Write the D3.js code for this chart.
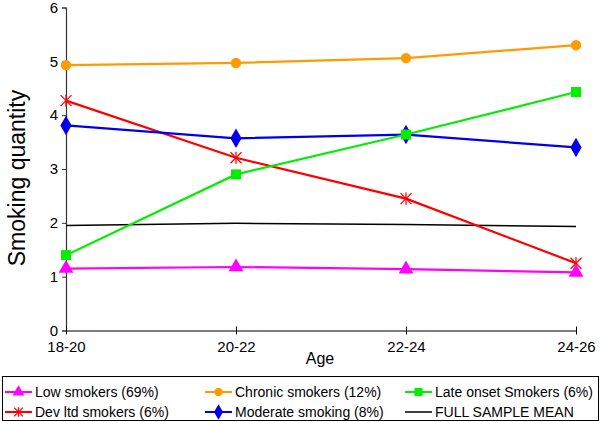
<!DOCTYPE html>
<html><head><meta charset="utf-8">
<script src="https://cdn.jsdelivr.net/npm/d3@7"></script>
<style>body{margin:0;background:#fff}svg{display:block;font-family:"Liberation Sans",Arial,sans-serif}</style>
</head><body>
<svg id="c" width="601" height="422"></svg>
<script>
const categories = ["18-20","20-22","22-24","24-26"];
const yTicks = [0,1,2,3,4,5,6];
const lowSmokers = [1.15,1.18,1.14,1.08];
const chronicSmokers = [4.93,4.97,5.06,5.30];
const lateOnset = [1.40,2.90,3.64,4.43];
const devLtd = [4.27,3.21,2.45,1.25];
const moderate = [3.81,3.57,3.64,3.40];
const fullMean = [1.95,1.99,1.97,1.93];

const series = [
  {name:"Low smokers (69%)", values:lowSmokers, color:"#ff00ff", marker:"triangle"},
  {name:"Chronic smokers (12%)", values:chronicSmokers, color:"#ff9a00", marker:"circle"},
  {name:"Late onset Smokers (6%)", values:lateOnset, color:"#00ee00", marker:"square"},
  {name:"Dev ltd smokers (6%)", values:devLtd, color:"#ff0000", marker:"star"},
  {name:"Moderate smoking (8%)", values:moderate, color:"#0000ee", marker:"diamond"},
  {name:"FULL SAMPLE MEAN", values:fullMean, color:"#000000", marker:"none"}
];
const drawOrder = [5,1,3,4,2,0];

const svg = d3.select("#c");
const x = d3.scalePoint().domain(categories).range([66,576]);
const y = d3.scaleLinear().domain([0,6]).range([330.5,7.5]);

// axes
const yAx = svg.append("g").attr("transform","translate(66,0)")
  .call(d3.axisLeft(y).tickValues(yTicks).tickSize(4).tickPadding(4).tickFormat(d3.format("d")));
yAx.select(".domain").attr("stroke","#333").attr("stroke-width",1.2);
yAx.selectAll(".tick line").attr("stroke","#333");
yAx.selectAll("text").attr("font-size",15).attr("fill","#000").attr("font-family","Liberation Sans, Arial");

const xAx = svg.append("g").attr("transform","translate(0,330.5)")
  .call(d3.axisBottom(x).tickSize(4).tickPadding(7).tickSizeOuter(0));
xAx.select(".domain").attr("stroke","#000").attr("stroke-width",1.2);
xAx.selectAll(".tick line").attr("y1",-4).attr("stroke","#000");
xAx.selectAll("text").attr("font-size",15).attr("fill","#000").attr("font-family","Liberation Sans, Arial");

svg.append("text").attr("x",320).attr("y",364).attr("text-anchor","middle")
  .attr("font-size",16).text("Age");
svg.append("text").attr("transform","translate(25,178) rotate(-90)").attr("text-anchor","middle")
  .attr("font-size",23).text("Smoking quantity");

function markerPath(type, size){
  const m = {triangle:d3.symbolTriangle, circle:d3.symbolCircle, square:d3.symbolSquare, diamond:d3.symbolDiamond};
  return d3.symbol().type(m[type]).size(size)();
}
function drawMarker(g, type, color, cx, cy, scale){
  scale = scale||1;
  if(type==="none") return;
  if(type==="star"){
    const r=5.5*scale;
    const gg=g.append("g").attr("transform",`translate(${cx},${cy})`).attr("stroke",color).attr("stroke-width",1.3);
    gg.append("line").attr("x1",-r).attr("y1",-r).attr("x2",r).attr("y2",r);
    gg.append("line").attr("x1",-r).attr("y1",r).attr("x2",r).attr("y2",-r);
    gg.append("line").attr("x1",0).attr("y1",-r*1.1).attr("x2",0).attr("y2",r*1.1);
    return;
  }
  const sizes={triangle:95,circle:85,square:100,diamond:110};
  g.append("path").attr("d",markerPath(type,sizes[type]*scale*scale))
    .attr("transform",`translate(${cx},${cy})`).attr("fill",color);
}

const line = d3.line().x((d,i)=>x(categories[i])).y(d=>y(d));
drawOrder.forEach(k=>{
  const s=series[k];
  const g=svg.append("g");
  g.append("path").attr("d",line(s.values)).attr("fill","none").attr("stroke",s.color)
    .attr("stroke-width",s.marker==="none"?1.5:2.2);
  s.values.forEach((v,i)=>drawMarker(g,s.marker,s.color,x(categories[i]),y(v)));
});

// legend
svg.append("rect").attr("x",2.5).attr("y",376.5).attr("width",596).attr("height",44)
  .attr("fill","#fff").attr("stroke","#000").attr("stroke-width",1);
const cols=[5,205,405], rows=[392,412];
series.forEach((s,i)=>{
  const cx=cols[i%3], cy=rows[Math.floor(i/3)];
  const g=svg.append("g");
  g.append("line").attr("x1",cx).attr("x2",cx+27).attr("y1",cy).attr("y2",cy)
    .attr("stroke",s.color).attr("stroke-width",s.marker==="none"?1.5:2);
  drawMarker(g,s.marker,s.color,cx+13.5,cy,0.8);
  g.append("text").attr("x",cx+30).attr("y",cy+5).attr("font-size",14).text(s.name);
});
</script>
</body></html>
